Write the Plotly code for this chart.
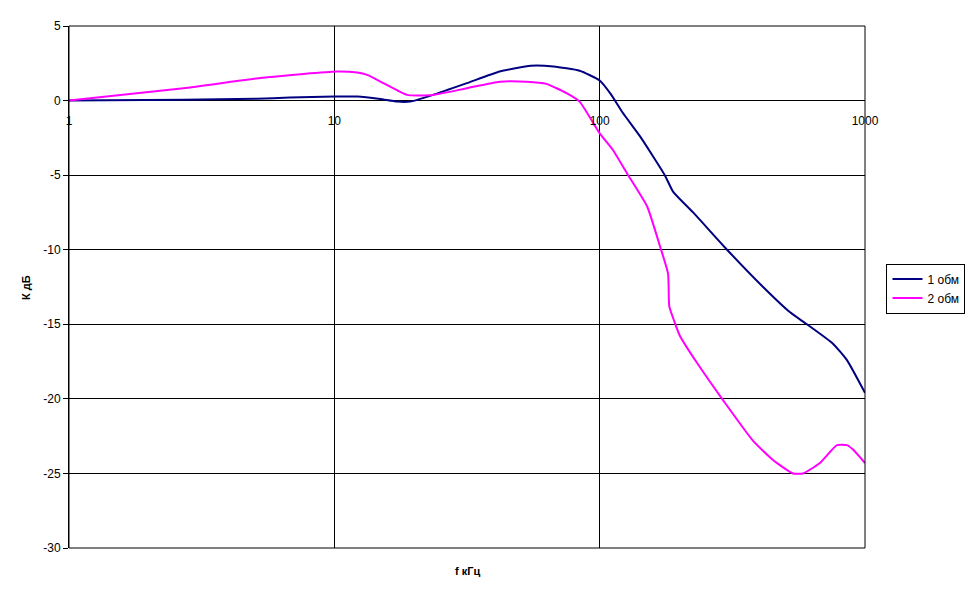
import plotly.graph_objects as go

# Series 1: "1 обм"
f1 = [1, 2.7, 5.1, 6.8, 10, 12.2, 14.9, 17.2, 19.3, 23.5, 31.6, 42, 55, 67, 84, 100,
      110, 122, 142, 176, 189, 225, 302, 413, 522, 604, 757, 855, 1000]
k1 = [0, 0.05, 0.13, 0.2, 0.27, 0.27, 0.1, -0.07, -0.07, 0.38, 1.17, 1.95, 2.33, 2.28, 2.0, 1.35,
      0.45, -0.8, -2.4, -5.0, -6.1, -7.5, -10.0, -12.5, -14.2, -15.0, -16.3, -17.4, -19.6]

# Series 2: "2 обм"
f2 = [1, 2.7, 5.6, 10.2, 12.2, 13.3, 15.3, 18.8, 23.5, 31.6, 42, 53, 63, 75, 84, 100, 112, 127,
      151, 169, 181, 183, 192, 201, 233, 292, 378, 450, 535, 584, 676, 784, 855, 901, 1000]
k2 = [0, 0.83, 1.57, 1.95, 1.88, 1.72, 1.17, 0.38, 0.38, 0.83, 1.27, 1.27, 1.12, 0.5, -0.07, -2.2, -3.3, -4.9,
      -7.1, -9.8, -11.6, -13.8, -14.9, -15.8, -17.6, -20.1, -22.8, -24.1, -25.0, -25.0, -24.3, -23.1, -23.1, -23.4, -24.3]

series_names = ["1 обм", "2 обм"]
x_ticks = [1, 10, 100, 1000]
x_ticklabels = ["1", "10", "100", "1000"]
y_ticks = [5, 0, -5, -10, -15, -20, -25, -30]
y_ticklabels = ["5", "0", "-5", "-10", "-15", "-20", "-25", "-30"]

FONT = "Liberation Sans, Arial, sans-serif"

fig = go.Figure()
fig.add_trace(go.Scatter(x=f1, y=k1, mode="lines", name=series_names[0],
                         line=dict(color="#000080", width=2, shape="spline", smoothing=0.5)))
fig.add_trace(go.Scatter(x=f2, y=k2, mode="lines", name=series_names[1],
                         line=dict(color="#FF00FF", width=2, shape="spline", smoothing=0.5)))

fig.update_layout(
    width=970, height=600,
    margin=dict(l=69, r=105, t=26, b=52, autoexpand=False),
    paper_bgcolor="white", plot_bgcolor="white",
    font=dict(family=FONT, size=12, color="black"),
    showlegend=True,
    legend=dict(x=1.027, y=0.545, xanchor="left", yanchor="top",
                bordercolor="black", borderwidth=1, bgcolor="white",
                font=dict(family=FONT, size=12, color="black"),
                itemwidth=30, tracegroupgap=0),
    xaxis=dict(type="log", range=[0, 3], tickvals=x_ticks, ticktext=x_ticklabels,
               showgrid=True, gridcolor="black", gridwidth=1,
               zeroline=False, showline=False, ticks="", automargin=False,
               anchor="free", position=30 / 35, ticklabelstandoff=11,
               tickfont=dict(family=FONT, size=12, color="black")),
    yaxis=dict(range=[-30, 5], tickvals=y_ticks, ticktext=y_ticklabels,
               showgrid=True, gridcolor="black", gridwidth=1,
               zeroline=False, showline=True, linecolor="black", linewidth=1, automargin=False,
               ticks="outside", ticklen=5, tickcolor="black",
               tickfont=dict(family=FONT, size=12, color="black")),
    shapes=[dict(type="rect", xref="paper", yref="paper", x0=0, x1=1, y0=0, y1=1,
                 line=dict(color="black", width=1), fillcolor="rgba(0,0,0,0)", layer="above")],
    annotations=[
        dict(text="<b>К дБ</b>", xref="paper", yref="paper", x=-0.054, y=0.498,
             xanchor="center", yanchor="middle",
             textangle=-90, showarrow=False, font=dict(family=FONT, size=11, color="black")),
        dict(text="<b>f кГц</b>", xref="paper", yref="paper", x=0.5, y=-0.044,
             xanchor="center", yanchor="middle",
             showarrow=False, font=dict(family=FONT, size=11, color="black")),
    ],
)

fig.write_html("out.html", config={"displayModeBar": False},
               post_script="document.body.style.margin='0px';document.body.style.padding='0px';")
